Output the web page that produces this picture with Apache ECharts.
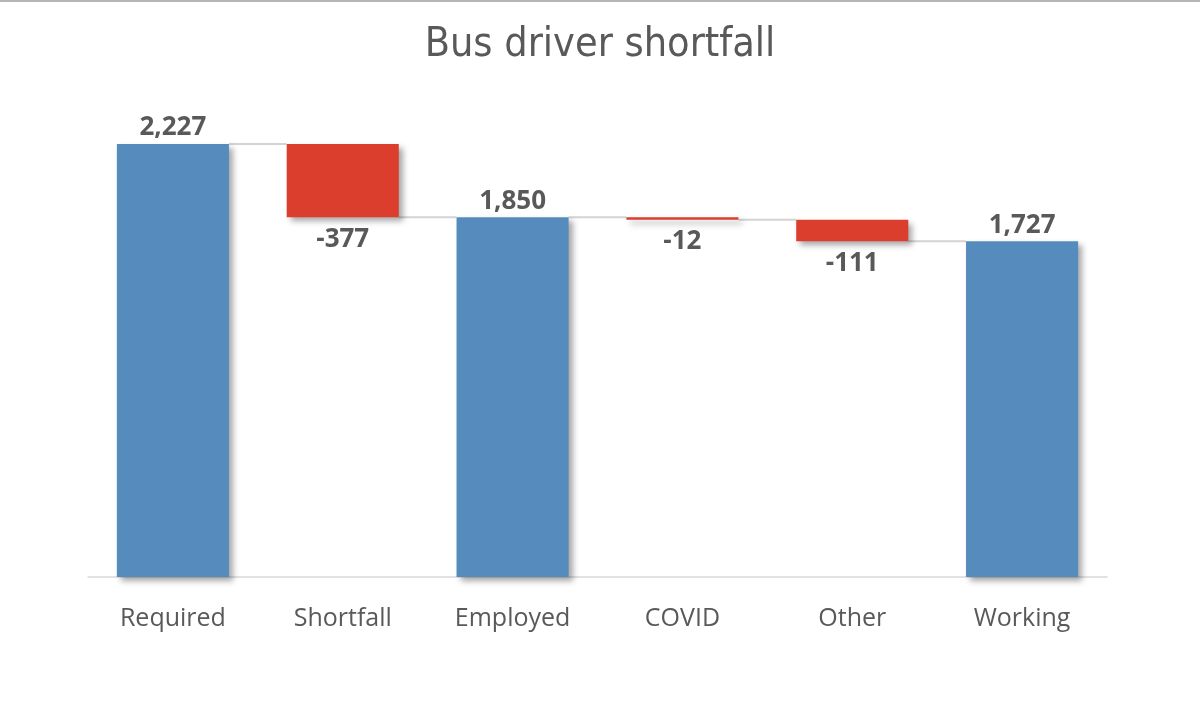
<!DOCTYPE html>
<html><head><meta charset="utf-8">
<script src="https://cdn.jsdelivr.net/npm/echarts@6/dist/echarts.min.js"></script>
<style>html,body{margin:0;padding:0;background:#fff}#c{width:1200px;height:717px}</style>
</head><body><div id="c"></div>
<script>
const categories = ['Required','Shortfall','Employed','COVID','Other','Working'];
const values = [2227, -377, 1850, -12, -111, 1727];
const isTotal = [true, false, true, false, false, true];

// derive waterfall helper (invisible base) and visible heights
const base = [], shown = [], ends = [];
let run = 0;
values.forEach((v, i) => {
  if (isTotal[i]) { base.push(0); shown.push(v); run = v; ends.push(v); }
  else {
    const next = run + v;
    base.push(Math.min(run, next)); shown.push(Math.abs(v)); run = next; ends.push(next);
  }
});
// connector segments: from category i to i+1 at running level
const connectors = [];
for (let i = 0; i < categories.length - 1; i++) connectors.push([i, ends[i]]);

const BLUE = '#568BBD', RED = '#DC3E2E', TXT = '#595959';
const fmt = n => n.toLocaleString('en-US');

const chart = echarts.init(document.getElementById('c'));
chart.setOption({
  animation: false,
  title: { text: 'Bus driver shortfall', left: 'center', top: 20,
    textStyle: { fontFamily: 'DejaVu Sans Condensed', fontWeight: 'normal', fontSize: 41, color: TXT } },
  graphic: [{ type: 'rect', shape: { x: 0, y: 0, width: 1200, height: 2 }, style: { fill: '#b5b5b5' } }],
  grid: { left: 88, right: 93, top: 91, bottom: 140 },
  xAxis: { type: 'category', data: categories,
    axisLine: { lineStyle: { color: '#d9d9d9', width: 1.5 } }, axisTick: { show: false },
    axisLabel: { margin: 29, fontSize: 25, color: TXT, fontFamily: 'Open Sans' } },
  yAxis: { type: 'value', min: 0, max: 2500, show: false, splitLine: { show: false } },
  series: [
    { type: 'custom', z: 1, silent: true,
      renderItem: (params, api) => {
        const i = api.value(0), lvl = api.value(1);
        const p1 = api.coord([i, lvl]), p2 = api.coord([i + 1, lvl]);
        const bw = api.size([1, 0])[0] * 0.66;
        return { type: 'line', shape: { x1: p1[0] + bw / 2, y1: p1[1], x2: p2[0] - bw / 2, y2: p2[1] },
          style: { stroke: '#d3d3d3', lineWidth: 2 } };
      },
      data: connectors },
    { type: 'bar', stack: 'w', data: base, barWidth: '66%', itemStyle: { color: 'transparent' }, silent: true },
    { type: 'bar', stack: 'w', z: 3, barWidth: '66%',
      data: shown.map((s, i) => ({
        value: s,
        itemStyle: { color: isTotal[i] ? BLUE : RED, shadowBlur: 6, shadowOffsetX: 4, shadowOffsetY: 4, shadowColor: 'rgba(0,0,0,0.35)' },
        label: { show: true, position: isTotal[i] ? 'top' : 'bottom', distance: isTotal[i] ? 3 : 9,
          formatter: () => fmt(values[i]), fontSize: 26, fontWeight: 'bold', color: TXT, fontFamily: 'Open Sans' }
      })) }
  ]
});
</script></body></html>
